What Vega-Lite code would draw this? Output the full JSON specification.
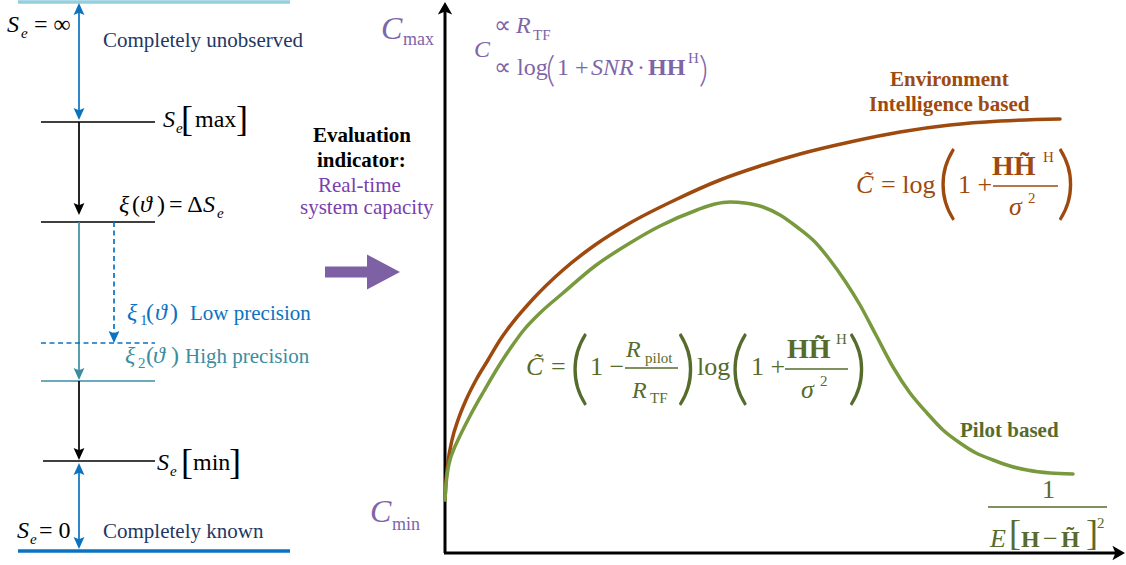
{
"$schema":"https://vega.github.io/schema/vega-lite/v6.json",
"width":1126,"height":565,"autosize":{"type":"fit","contains":"padding"},"padding":0,
"background":"white",
"config":{"view":{"stroke":null},"text":{"font":"Liberation Serif","align":"left","baseline":"alphabetic"}},
"datasets":{
"curves":[
{"x":445,"y":500,"c":"brn"},{"x":446,"y":482,"c":"brn"},{"x":448,"y":462,"c":"brn"},{"x":452,"y":440,"c":"brn"},{"x":458,"y":420,"c":"brn"},{"x":466,"y":400,"c":"brn"},{"x":476,"y":380,"c":"brn"},{"x":488,"y":360,"c":"brn"},{"x":500,"y":340,"c":"brn"},{"x":507,"y":330,"c":"brn"},{"x":533,"y":299,"c":"brn"},{"x":563,"y":270,"c":"brn"},{"x":595,"y":245,"c":"brn"},{"x":630,"y":223,"c":"brn"},{"x":675,"y":200,"c":"brn"},{"x":720,"y":180,"c":"brn"},{"x":760,"y":166,"c":"brn"},{"x":800,"y":154,"c":"brn"},{"x":850,"y":142,"c":"brn"},{"x":900,"y":132,"c":"brn"},{"x":950,"y":125,"c":"brn"},{"x":1000,"y":121,"c":"brn"},{"x":1060,"y":119,"c":"brn"},
{"x":445,"y":500,"c":"grn"},{"x":445.6,"y":490,"c":"grn"},{"x":446.6,"y":479,"c":"grn"},{"x":448,"y":469,"c":"grn"},{"x":450,"y":460,"c":"grn"},{"x":453.5,"y":450,"c":"grn"},{"x":458,"y":440,"c":"grn"},{"x":470,"y":416,"c":"grn"},{"x":484,"y":391,"c":"grn"},{"x":500,"y":364,"c":"grn"},{"x":512,"y":346,"c":"grn"},{"x":523,"y":331,"c":"grn"},{"x":540,"y":313,"c":"grn"},{"x":563,"y":293,"c":"grn"},{"x":595,"y":266,"c":"grn"},{"x":630,"y":243,"c":"grn"},{"x":660,"y":226,"c":"grn"},{"x":697,"y":210,"c":"grn"},{"x":715,"y":204,"c":"grn"},{"x":730,"y":202,"c":"grn"},{"x":745,"y":203,"c":"grn"},{"x":763,"y":207,"c":"grn"},{"x":780,"y":215,"c":"grn"},{"x":797,"y":227,"c":"grn"},{"x":815,"y":242,"c":"grn"},{"x":830,"y":260,"c":"grn"},{"x":845,"y":281,"c":"grn"},{"x":860,"y":305,"c":"grn"},{"x":876,"y":335,"c":"grn"},{"x":893,"y":367,"c":"grn"},{"x":910,"y":393,"c":"grn"},{"x":927,"y":413,"c":"grn"},{"x":943,"y":430,"c":"grn"},{"x":960,"y":443,"c":"grn"},{"x":976,"y":453,"c":"grn"},{"x":993,"y":460,"c":"grn"},{"x":1010,"y":466,"c":"grn"},{"x":1027,"y":470,"c":"grn"},{"x":1050,"y":473,"c":"grn"},{"x":1073,"y":474,"c":"grn"}
],
"thin":[
{"x":79,"y":5,"x2":79,"y2":118,"c":"blue"},
{"x":41,"y":122,"x2":155,"y2":122,"c":"k"},
{"x":79,"y":122,"x2":79,"y2":208,"c":"k"},
{"x":41,"y":222,"x2":155,"y2":222,"c":"k"},
{"x":79,"y":222,"x2":79,"y2":372,"c":"teal"},
{"x":41,"y":381,"x2":155,"y2":381,"c":"teal"},
{"x":79,"y":381,"x2":79,"y2":452,"c":"k"},
{"x":43,"y":461,"x2":155,"y2":461,"c":"k"},
{"x":79,"y":470,"x2":79,"y2":542,"c":"blue"}
],
"dash":[
{"x":114,"y":222,"x2":114,"y2":336,"c":"blue"},
{"x":41,"y":343,"x2":155,"y2":343,"c":"blue"}
],
"thick":[
{"x":18,"y":2,"x2":290,"y2":2,"c":"cyan"},
{"x":18,"y":551,"x2":290,"y2":551,"c":"blue"}
],
"axes":[
{"x":445,"y":553,"x2":445,"y2":10,"c":"k"},
{"x":444,"y":553,"x2":1117,"y2":553,"c":"k"}
],
"bars":[
{"x":993,"y":186,"x2":1058,"y2":186,"c":"brn"},
{"x":625,"y":368,"x2":678,"y2":368,"c":"olv"},
{"x":785,"y":369,"x2":848,"y2":369,"c":"olv"},
{"x":988,"y":507,"x2":1107,"y2":507,"c":"olv"}
],
"body":[{"x":325,"y":272,"x2":368,"y2":272,"c":"arr"}],
"bighead":[{"x":400,"y":272,"c":"arr"}],
"heads":[
{"x":79,"y":3,"d":"up","c":"blue"},{"x":79,"y":120,"d":"dn","c":"blue"},{"x":79,"y":215,"d":"dn","c":"k"},{"x":114,"y":343,"d":"dn","c":"blue"},{"x":79,"y":380,"d":"dn","c":"teal"},{"x":79,"y":460,"d":"dn","c":"k"},{"x":79,"y":463,"d":"up","c":"blue"},{"x":79,"y":549,"d":"dn","c":"blue"},{"x":445,"y":2,"d":"axup","c":"k"},{"x":1125,"y":553,"d":"axr","c":"k"}
],
"i15":[
{"x":21,"y":38,"t":"e","c":"k"},{"x":176,"y":133,"t":"e","c":"k"},{"x":217,"y":218,"t":"e","c":"k"},{"x":170,"y":476,"t":"e","c":"k"},{"x":30,"y":544,"t":"e","c":"k"}
],
"i24":[
{"x":7,"y":32,"t":"S","c":"k"},{"x":163,"y":127,"t":"S","c":"k"},{"x":119,"y":212,"t":"ξ","c":"k"},{"x":140,"y":212,"t":"ϑ","c":"k"},{"x":203,"y":212,"t":"S","c":"k"},
{"x":127,"y":320,"t":"ξ","c":"blue"},{"x":155,"y":320,"t":"ϑ","c":"blue"},{"x":125,"y":363,"t":"ξ","c":"teal"},{"x":153,"y":363,"t":"ϑ","c":"teal"},
{"x":157,"y":470,"t":"S","c":"k"},{"x":17,"y":538,"t":"S","c":"k"},
{"x":474,"y":57,"t":"C","c":"pur"},{"x":516,"y":33,"t":"R","c":"pur"},{"x":591,"y":75,"t":"SNR","c":"pur"},
{"x":626,"y":357,"t":"R","c":"olv"},{"x":632,"y":398,"t":"R","c":"olv"}
],
"i26":[
{"x":856,"y":193,"t":"C̃","c":"brn"},{"x":1009,"y":215,"t":"σ","c":"brn"},
{"x":526,"y":375,"t":"C̃","c":"olv"},{"x":801,"y":398,"t":"σ","c":"olv"},{"x":990,"y":547,"t":"E","c":"olv"}
],
"i32":[
{"x":381,"y":39,"t":"C","c":"pur"},{"x":370,"y":522,"t":"C","c":"pur"}
],
"r15":[
{"x":140,"y":325,"t":"1","c":"blue"},{"x":138,"y":368,"t":"2","c":"teal"},
{"x":533,"y":40,"t":"TF","c":"pur"},{"x":688,"y":63,"t":"H","c":"pur"},
{"x":1043,"y":162,"t":"H","c":"brn"},{"x":1028,"y":203,"t":"2","c":"brn"},
{"x":645,"y":363,"t":"pilot","c":"olv"},{"x":650,"y":403,"t":"TF","c":"olv"},{"x":836,"y":344,"t":"H","c":"olv"},{"x":820,"y":386,"t":"2","c":"olv"},{"x":1097,"y":528,"t":"2","c":"olv"}
],
"r18":[
{"x":403,"y":45,"t":"max","c":"pur"},{"x":392,"y":530,"t":"min","c":"pur"}
],
"r21":[
{"x":103,"y":47,"t":"Completely unobserved","c":"navy"},
{"x":103,"y":538,"t":"Completely known","c":"navy"},
{"x":190,"y":320,"t":"Low precision","c":"blue"},
{"x":185,"y":363,"t":"High precision","c":"teal"},
{"x":318,"y":192,"t":"Real-time","c":"vio"},
{"x":300,"y":214,"t":"system capacity","c":"vio"}
],
"r24":[
{"x":34,"y":32,"t":"= ∞","c":"k"},{"x":195,"y":127,"t":"max","c":"k"},
{"x":132,"y":212,"t":"(","c":"k"},{"x":157,"y":212,"t":")","c":"k"},{"x":169,"y":212,"t":"= Δ","c":"k"},
{"x":146,"y":320,"t":"(","c":"blue"},{"x":170,"y":320,"t":")","c":"blue"},
{"x":146,"y":363,"t":"(","c":"teal"},{"x":171,"y":363,"t":")","c":"teal"},
{"x":193,"y":470,"t":"min","c":"k"},{"x":39,"y":538,"t":"= 0","c":"k"},
{"x":494,"y":33,"t":"∝","c":"pur"},{"x":494,"y":75,"t":"∝ log","c":"pur"},{"x":557,"y":75,"t":"1 +","c":"pur"},{"x":637,"y":75,"t":"·","c":"pur"}
],
"r26":[
{"x":881,"y":193,"t":"= log","c":"brn"},{"x":958,"y":193,"t":"1 +","c":"brn"},
{"x":551,"y":375,"t":"=","c":"olv"},{"x":590,"y":375,"t":"1 −","c":"olv"},{"x":697,"y":375,"t":"log","c":"olv"},{"x":751,"y":375,"t":"1 +","c":"olv"},
{"x":1042,"y":498,"t":"1","c":"olv"},{"x":1043,"y":547,"t":"−","c":"olv"}
],
"r36":[
{"x":181,"y":131,"t":"[","c":"k"},{"x":236,"y":131,"t":"]","c":"k"},
{"x":181,"y":474,"t":"[","c":"k"},{"x":229,"y":474,"t":"]","c":"k"},
{"x":1009,"y":545,"t":"[","c":"olv"},{"x":1086,"y":545,"t":"]","c":"olv"}
],
"p35":[
{"x":546,"y":82,"t":"(","c":"pur"},{"x":699,"y":82,"t":")","c":"pur"}
],
"p80":[
{"x":937,"y":210,"t":"(","c":"brn"},{"x":1056,"y":210,"t":")","c":"brn"},
{"x":569,"y":395,"t":"(","c":"olv"},{"x":676,"y":395,"t":")","c":"olv"},{"x":729,"y":395,"t":"(","c":"olv"},{"x":847,"y":395,"t":")","c":"olv"}
],
"b21":[
{"x":313,"y":142,"t":"Evaluation","c":"k"},{"x":317,"y":167,"t":"indicator:","c":"k"},
{"x":890,"y":86,"t":"Environment","c":"brn"},{"x":869,"y":111,"t":"Intelligence based","c":"brn"},
{"x":960,"y":437,"t":"Pilot based","c":"olv"}
],
"b24":[{"x":648,"y":75,"t":"HH","c":"pur"},{"x":1021,"y":547,"t":"H","c":"olv"},{"x":1061,"y":547,"t":"H̃","c":"olv"}],
"b28":[
{"x":992,"y":175,"t":"HH̃","c":"brn"},{"x":787,"y":358,"t":"HH̃","c":"olv"}
]
},
"encoding":{
"x":{"field":"x","type":"quantitative","scale":{"domain":[0,1126],"nice":false,"zero":false},"axis":null},
"y":{"field":"y","type":"quantitative","scale":{"domain":[0,565],"reverse":true,"nice":false,"zero":false},"axis":null},
"color":{"field":"c","type":"nominal","legend":null,"scale":{
"domain":["k","navy","blue","teal","cyan","pur","vio","arr","brn","grn","olv"],
"range":["#000000","#1f3864","#0b72c2","#3a8ea0","#93cfdc","#7e65a8","#7a3fae","#7d61a4","#9e4a0f","#78993d","#566b2c"]}}
},
"layer":[
{"data":{"name":"thick"},"mark":{"type":"rule","strokeWidth":3.5},"encoding":{"x2":{"field":"x2"},"y2":{"field":"y2"}}},
{"data":{"name":"thin"},"mark":{"type":"rule","strokeWidth":1.7},"encoding":{"x2":{"field":"x2"},"y2":{"field":"y2"}}},
{"data":{"name":"dash"},"mark":{"type":"rule","strokeWidth":1.7,"strokeDash":[5,3.5]},"encoding":{"x2":{"field":"x2"},"y2":{"field":"y2"}}},
{"data":{"name":"axes"},"mark":{"type":"rule","strokeWidth":3},"encoding":{"x2":{"field":"x2"},"y2":{"field":"y2"}}},
{"data":{"name":"bars"},"mark":{"type":"rule","strokeWidth":1.3},"encoding":{"x2":{"field":"x2"},"y2":{"field":"y2"}}},
{"data":{"name":"body"},"mark":{"type":"rule","strokeWidth":11,"strokeCap":"butt"},"encoding":{"x2":{"field":"x2"},"y2":{"field":"y2"}}},
{"data":{"name":"bighead"},"mark":{"type":"point","filled":true,"opacity":1,"size":4356,"shape":"M0,0L-1,-0.53L-1,0.53Z","strokeWidth":0}},
{"data":{"name":"heads"},"mark":{"type":"point","filled":true,"opacity":1,"size":576,"strokeWidth":0},
 "encoding":{"shape":{"field":"d","type":"nominal","legend":null,"scale":{"domain":["dn","up","axup","axr"],"range":["M0,0L-0.45,-1L0,-0.82L0.45,-1Z","M0,0L-0.45,1L0,0.82L0.45,1Z","M0,0L-0.6,1.05L0,0.8L0.6,1.05Z","M0,0L-1.05,-0.6L-0.8,0L-1.05,0.6Z"]}}}},
{"data":{"name":"curves"},"mark":{"type":"line","strokeWidth":3.5,"interpolate":"monotone","strokeCap":"round"},"encoding":{}},
{"data":{"name":"i15"},"mark":{"type":"text","fontSize":15,"fontStyle":"italic"},"encoding":{"text":{"field":"t"}}},
{"data":{"name":"i24"},"mark":{"type":"text","fontSize":24,"fontStyle":"italic"},"encoding":{"text":{"field":"t"}}},
{"data":{"name":"i26"},"mark":{"type":"text","fontSize":26,"fontStyle":"italic"},"encoding":{"text":{"field":"t"}}},
{"data":{"name":"i32"},"mark":{"type":"text","fontSize":32,"fontStyle":"italic"},"encoding":{"text":{"field":"t"}}},
{"data":{"name":"r15"},"mark":{"type":"text","fontSize":15},"encoding":{"text":{"field":"t"}}},
{"data":{"name":"r18"},"mark":{"type":"text","fontSize":18},"encoding":{"text":{"field":"t"}}},
{"data":{"name":"r21"},"mark":{"type":"text","fontSize":21},"encoding":{"text":{"field":"t"}}},
{"data":{"name":"r24"},"mark":{"type":"text","fontSize":24},"encoding":{"text":{"field":"t"}}},
{"data":{"name":"r26"},"mark":{"type":"text","fontSize":26},"encoding":{"text":{"field":"t"}}},
{"data":{"name":"r36"},"mark":{"type":"text","fontSize":36},"encoding":{"text":{"field":"t"}}},
{"data":{"name":"p35"},"mark":{"type":"text","fontSize":35,"font":"Lato","fontWeight":300},"encoding":{"text":{"field":"t"}}},
{"data":{"name":"p80"},"mark":{"type":"text","fontSize":80,"font":"Lato","fontWeight":300},"encoding":{"text":{"field":"t"}}},
{"data":{"name":"b21"},"mark":{"type":"text","fontSize":21,"fontWeight":"bold"},"encoding":{"text":{"field":"t"}}},
{"data":{"name":"b24"},"mark":{"type":"text","fontSize":24,"fontWeight":"bold"},"encoding":{"text":{"field":"t"}}},
{"data":{"name":"b28"},"mark":{"type":"text","fontSize":28,"fontWeight":"bold"},"encoding":{"text":{"field":"t"}}}
]
}
